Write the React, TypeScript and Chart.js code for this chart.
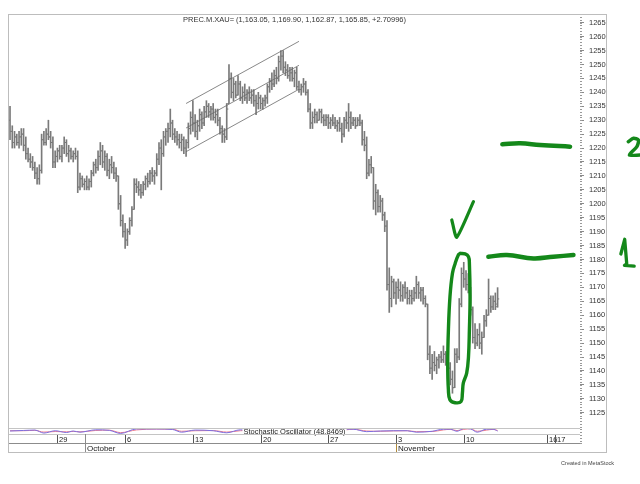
import React, { useEffect, useRef } from 'react';
import { Chart, registerables } from 'chart.js';

Chart.register(...registerables);

const FONT = '"Liberation Sans", Arial, sans-serif';
const BAR_COLOR = '#7a7a7a';
const GREEN = '#14881a';

const titleText = 'PREC.M.XAU= (1,163.05, 1,169.90, 1,162.87, 1,165.85, +2.70996)';
const stochLabel = 'Stochastic Oscillator (48.8469)';
const creditText = 'Created in MetaStock';

const priceTicks = [1125, 1130, 1135, 1140, 1145, 1150, 1155, 1160, 1165, 1170, 1175, 1180, 1185, 1190, 1195, 1200, 1205, 1210, 1215, 1220, 1225, 1230, 1235, 1240, 1245, 1250, 1255, 1260, 1265];

const dayLabels = ['29', '6', '13', '20', '27', '3', '10', '16', '17'];
const dayIndex = [21, 51, 81, 111, 141, 171, 201, 238, 241.6];
const monthLabels = ['October', 'November'];
const monthIndex = [33, 171];

const highs = [1235,1228,1226,1225,1226,1227,1227,1224,1220,1218,
1217,1215,1213,1214,1225,1226,1227,1230,1226,1224,
1219,1220,1221,1221,1224,1223,1221,1220,1219,1220,
1219,1211,1210,1209,1210,1209,1212,1215,1216,1219,
1222,1221,1219,1218,1216,1217,1215,1213,1210,1203,
1196,1193,1191,1195,1199,1209,1209,1208,1207,1208,
1210,1211,1212,1213,1212,1218,1222,1223,1226,1227,
1229,1234,1230,1227,1226,1225,1225,1224,1223,1229,
1233,1237,1232,1230,1234,1233,1235,1237,1236,1235,
1236,1234,1234,1231,1228,1227,1236,1250,1247,1245,
1244,1246,1244,1242,1243,1241,1242,1241,1241,1239,
1240,1239,1238,1239,1243,1245,1247,1248,1249,1253,
1255,1255,1251,1250,1249,1249,1248,1249,1244,1243,
1245,1244,1241,1236,1233,1234,1233,1234,1234,1232,
1232,1232,1231,1232,1231,1230,1231,1229,1231,1233,
1236,1233,1231,1231,1231,1232,1230,1226,1224,1216,
1217,1213,1207,1205,1203,1202,1197,1194,1177,1174,
1173,1172,1173,1172,1171,1172,1170,1169,1169,1170,
1174,1172,1170,1170,1167,1164,1149,1146,1147,1145,
1146,1147,1149,1147,1146,1143,1140,1148,1148,1166,
1177,1179,1176,1175,1170,1163,1157,1155,1157,1154,
1160,1162,1173,1167,1167,1168,1169.9];

const lows = [1223,1220,1220,1221,1220,1221,1219,1216,1215,1213,
1212,1209,1207,1207,1211,1221,1221,1223,1220,1213,
1213,1215,1216,1215,1218,1217,1215,1216,1215,1216,
1204,1205,1206,1205,1205,1205,1206,1210,1211,1212,
1214,1213,1212,1210,1209,1211,1209,1208,1198,1192,
1188,1184,1185,1189,1192,1198,1204,1203,1202,1203,
1205,1206,1207,1208,1207,1210,1214,1205,1217,1221,
1222,1224,1223,1222,1221,1220,1219,1218,1217,1220,
1225,1226,1224,1223,1226,1227,1228,1231,1231,1230,
1230,1229,1228,1225,1222,1222,1223,1236,1238,1237,
1238,1239,1237,1236,1237,1236,1237,1236,1235,1232,
1234,1234,1234,1235,1236,1240,1241,1242,1243,1244,
1248,1247,1246,1245,1244,1244,1242,1241,1240,1239,
1240,1239,1233,1227,1227,1229,1229,1230,1229,1228,
1228,1227,1227,1228,1227,1226,1226,1222,1224,1227,
1226,1227,1228,1227,1228,1228,1221,1219,1209,1210,
1211,1198,1196,1197,1197,1194,1190,1169,1161,1163,
1166,1164,1166,1165,1165,1166,1164,1164,1164,1165,
1166,1166,1165,1164,1163,1144,1139,1137,1140,1139,
1141,1143,1143,1142,1139,1135,1132,1134,1143,1144,
1163,1170,1169,1168,1160,1150,1148,1149,1148,1146,
1152,1156,1160,1161,1162,1162,1162.87];

const opens = [1230,1226,1222,1224,1222,1224,1225,1221,1218,1216,
1215,1213,1211,1209,1212,1223,1222,1225,1224,1222,
1215,1217,1219,1217,1220,1222,1218,1219,1217,1218,
1217,1206,1209,1207,1208,1206,1208,1211,1214,1213,
1217,1219,1215,1217,1212,1214,1213,1211,1210,1200,
1194,1190,1187,1190,1194,1198,1207,1206,1205,1204,
1207,1209,1208,1211,1210,1211,1216,1220,1218,1224,
1226,1227,1229,1225,1224,1223,1222,1223,1220,1222,
1227,1231,1229,1226,1228,1232,1229,1233,1235,1233,
1234,1231,1232,1230,1227,1225,1224,1236,1245,1240,
1243,1239,1243,1238,1240,1238,1240,1238,1239,1237,
1236,1238,1236,1237,1238,1242,1244,1243,1246,1245,
1251,1253,1249,1248,1246,1247,1245,1247,1242,1241,
1242,1243,1240,1234,1229,1231,1232,1230,1233,1231,
1230,1231,1229,1230,1229,1228,1229,1227,1225,1230,
1229,1231,1229,1230,1228,1230,1229,1223,1221,1211,
1214,1213,1201,1204,1199,1201,1196,1192,1171,1166,
1172,1168,1170,1169,1167,1170,1168,1166,1167,1166,
1168,1171,1168,1169,1166,1164,1146,1141,1143,1142,
1144,1145,1144,1146,1143,1141,1137,1134,1146,1145,
1164,1175,1173,1171,1170,1162,1152,1150,1153,1150,
1152,1158,1160,1166,1163,1165,1163.05];

const closes = [1226,1222,1224,1222,1224,1225,1221,1218,1216,1215,
1213,1211,1209,1212,1223,1222,1225,1224,1222,1215,
1217,1219,1217,1220,1222,1218,1219,1217,1218,1217,
1206,1209,1207,1208,1206,1208,1211,1214,1213,1217,
1219,1215,1217,1212,1214,1213,1211,1210,1200,1194,
1190,1187,1190,1194,1198,1207,1206,1205,1204,1207,
1209,1208,1211,1210,1211,1216,1220,1218,1224,1226,
1227,1229,1225,1224,1223,1222,1223,1220,1222,1227,
1231,1229,1226,1228,1232,1229,1233,1235,1233,1234,
1231,1232,1230,1227,1225,1224,1234,1245,1240,1243,
1239,1243,1238,1240,1238,1240,1238,1239,1237,1236,
1238,1236,1237,1238,1242,1244,1243,1246,1245,1251,
1253,1249,1248,1246,1247,1245,1247,1242,1241,1242,
1243,1240,1234,1229,1231,1232,1230,1233,1231,1230,
1231,1229,1230,1229,1228,1229,1227,1225,1230,1229,
1231,1229,1230,1228,1230,1229,1223,1221,1211,1214,
1213,1201,1204,1199,1201,1196,1192,1171,1166,1172,
1168,1170,1169,1167,1170,1168,1166,1167,1166,1168,
1171,1168,1169,1166,1164,1146,1141,1143,1142,1144,
1145,1144,1146,1143,1141,1137,1134,1146,1145,1164,
1175,1173,1171,1170,1162,1152,1150,1153,1150,1152,
1158,1160,1166,1163,1165,1164,1165.85];

const stochIdx = [0, 6, 11, 15, 20, 25, 28, 31, 38, 44, 49, 56, 65, 72, 76, 82, 90, 96, 102, 108, 114, 120, 126, 132, 138, 144, 149, 152, 158, 164, 170, 176, 180, 187, 192, 195, 198, 201, 204, 207, 211, 214, 216];
const stochK = [50, 60, 67, 12, 55, 22, 50, 28, 72, 62, 5, 88, 88, 78, 28, 67, 55, 17, 72, 60, 80, 92, 70, 20, 40, 45, 83, 83, 38, 50, 55, 55, 28, 45, 83, 83, 45, 95, 88, 28, 83, 83, 49];
const stochD = [55, 55, 62, 30, 40, 35, 42, 35, 60, 65, 20, 70, 85, 82, 45, 55, 58, 30, 55, 62, 72, 85, 78, 35, 35, 45, 72, 82, 50, 45, 52, 55, 38, 40, 70, 80, 58, 80, 90, 45, 65, 80, 60];

// trend channel (bar index, price)
const channelUpper = [[78, 1236.0], [128, 1258.3]];
const channelMiddle = [[78, 1227.2], [128, 1249.7]];
const channelLower = [[78, 1218.7], [128, 1241.1]];

// hand-drawn green annotations (bar index, price)
const greenCheck = [[195.7, 1194.2], [197.9, 1188.0], [205.3, 1200.75]];
const greenLoop = [[199.4, 1182.2], [201.6, 1182.0], [203.1, 1181.0], [203.5, 1178.6], [203.8, 1166.65], [203.5, 1154.7], [203.1, 1145.1], [202.3, 1139.2], [200.8, 1135.6], [200.4, 1132.0], [199.8, 1129.0], [197.2, 1128.6], [194.9, 1129.6], [194.2, 1133.2], [193.9, 1142.7], [194.2, 1154.7], [194.9, 1166.65], [196.0, 1175.05], [197.2, 1178.6], [198.6, 1181.6], [199.4, 1182.2]];
const greenLine1 = [[211.9, 1181.0], [220.1, 1181.6], [231.9, 1180.4], [240.7, 1181.0], [249.6, 1181.6]];
const greenLine2 = [[218.1, 1221.35], [226.0, 1221.7], [234.8, 1221.1], [248.1, 1220.5]];
const greenTwo = [[273.9, 1222.3], [276.2, 1223.5], [278.4, 1222.9], [277.7, 1220.5], [274.4, 1217.5], [279.1, 1217.5]];
const greenOne = [[270.6, 1181.98], [272.3, 1187.25], [273.2, 1178.4], [272.2, 1177.9], [276.5, 1177.6]];

const pts = (a: number[][]) => a.map(([x, y]) => ({ x, y }));

function greenDs(data: number[][], width: number, tension: number) {
  return {
    type: 'line' as const,
    data: pts(data),
    borderColor: GREEN,
    borderWidth: width,
    tension,
    pointRadius: 0,
    fill: false,
    clip: false as any,
    borderCapStyle: 'round' as const,
    borderJoinStyle: 'round' as const,
    order: -2,
    xAxisID: 'x',
    yAxisID: 'y',
  };
}

function channelDs(data: number[][]) {
  return {
    type: 'line' as const,
    data: pts(data),
    borderColor: '#6a6a6a',
    borderWidth: 0.8,
    pointRadius: 0,
    fill: false,
    order: -1,
    xAxisID: 'x',
    yAxisID: 'y',
  };
}

const overlayPlugin = {
  id: 'overlay',
  afterDraw(chart: any) {
    const ctx: CanvasRenderingContext2D = chart.ctx;
    const { left, right, bottom } = chart.chartArea;
    const xs = chart.scales.x;
    const ys = chart.scales.y;
    const ss = chart.scales.yS;
    ctx.save();

    // stochastic label with white box
    ctx.font = `7.5px ${FONT}`;
    const cx = (left + right) / 2;
    const sy = (ss.top + ss.bottom) / 2 + 0.5;
    const w = ctx.measureText(stochLabel).width;
    ctx.fillStyle = '#ffffff';
    ctx.fillRect(cx - w / 2 - 1, ss.top + 0.5, w + 2, ss.bottom - ss.top - 0.5);
    ctx.fillStyle = '#222';
    ctx.textAlign = 'center';
    ctx.textBaseline = 'middle';
    ctx.fillText(stochLabel, cx, sy);

    // minor tick column on the price axis
    ctx.fillStyle = '#9a9a9a';
    for (let v = 1114; v <= 1268; v++) {
      const py = ys.getPixelForValue(v);
      ctx.fillRect(right, Math.round(py), 2, 1);
    }

    // panel separators
    ctx.strokeStyle = '#c4c4c4';
    ctx.lineWidth = 1;
    const hline = (y: number, x1: number, x2: number) => {
      ctx.beginPath();
      ctx.moveTo(x1, y);
      ctx.lineTo(x2, y);
      ctx.stroke();
    };
    hline(Math.round(ss.top) + 0.5, 8, right);
    hline(Math.round(bottom) + 0.5, 8, right);
    ctx.strokeStyle = '#8c8c8c';
    hline(443.5, 8, right);

    // day labels
    ctx.font = `7.5px ${FONT}`;
    ctx.textAlign = 'left';
    ctx.textBaseline = 'middle';
    ctx.strokeStyle = '#555';
    dayLabels.forEach((lab, k) => {
      const px = Math.round(xs.getPixelForValue(dayIndex[k])) + 0.5;
      ctx.beginPath();
      ctx.moveTo(px, bottom + 1);
      ctx.lineTo(px, 443);
      ctx.stroke();
      ctx.fillStyle = '#222';
      ctx.fillText(lab, px + 1.5, 439.5);
    });
    // month labels
    monthLabels.forEach((lab, k) => {
      const px = Math.round(xs.getPixelForValue(monthIndex[k])) + 0.5;
      ctx.strokeStyle = k === 0 ? '#8c8c8c' : '#b08a3a';
      ctx.beginPath();
      ctx.moveTo(px, k === 0 ? bottom : 444);
      ctx.lineTo(px, 452);
      ctx.stroke();
      ctx.fillStyle = '#222';
      ctx.font = `8px ${FONT}`;
      ctx.fillText(lab, px + 1.5, 448.3);
    });

    // outer frame
    ctx.strokeStyle = '#bdbdbd';
    ctx.lineWidth = 1;
    ctx.strokeRect(8.5, 14.5, 598, 438);

    // title
    ctx.fillStyle = '#333';
    ctx.font = `7.5px ${FONT}`;
    ctx.textAlign = 'center';
    ctx.fillText(titleText, cx, 19.5);

    // credit
    ctx.font = `5.5px ${FONT}`;
    ctx.textAlign = 'right';
    ctx.fillStyle = '#444';
    ctx.fillText(creditText, 614, 463.5);
    ctx.restore();
  },
};

export default function App() {
  const ref = useRef<HTMLCanvasElement>(null);
  useEffect(() => {
    const barData = highs.map((h, i) => ({ x: i, y: [lows[i], h] }));
    const openData = opens.map((o, i) => ({ x: i - 0.35, y: o }));
    const closeData = closes.map((c, i) => ({ x: i + 0.35, y: c }));
    const kData = stochIdx.map((x, i) => ({ x, y: stochK[i] }));
    const dData = stochIdx.map((x, i) => ({ x, y: stochD[i] }));

    const tickDs = (data: any[]) => ({
      type: 'line',
      data,
      showLine: false,
      pointStyle: 'line',
      pointRadius: 0.8,
      pointHoverRadius: 0.8,
      pointBorderWidth: 1,
      borderColor: BAR_COLOR,
      order: 1,
      xAxisID: 'x',
      yAxisID: 'y',
    } as any);

    const chart = new Chart(ref.current as HTMLCanvasElement, {
      type: 'line',
      data: {
        datasets: [
          greenDs(greenCheck, 3.2, 0.2),
          greenDs(greenLoop, 3.4, 0.4),
          greenDs(greenLine1, 4.5, 0.4),
          greenDs(greenLine2, 4.5, 0.4),
          greenDs(greenTwo, 3.5, 0.25),
          greenDs(greenOne, 3.3, 0),
          channelDs(channelUpper),
          channelDs(channelMiddle),
          channelDs(channelLower),
          tickDs(openData),
          tickDs(closeData),
          {
            type: 'bar',
            data: barData,
            backgroundColor: BAR_COLOR,
            borderWidth: 0,
            barThickness: 1,
            grouped: false,
            order: 2,
            xAxisID: 'x',
            yAxisID: 'y',
          } as any,
          {
            type: 'line',
            data: kData,
            borderColor: '#7b6fe0',
            borderWidth: 1,
            pointRadius: 0,
            cubicInterpolationMode: 'monotone',
            fill: false,
            order: 3,
            xAxisID: 'x',
            yAxisID: 'yS',
          } as any,
          {
            type: 'line',
            data: dData,
            borderColor: '#ee7a8c',
            borderWidth: 1,
            pointRadius: 0,
            cubicInterpolationMode: 'monotone',
            fill: false,
            order: 4,
            xAxisID: 'x',
            yAxisID: 'yS',
          } as any,
        ],
      },
      options: {
        responsive: false,
        animation: false,
        devicePixelRatio: 1,
        events: [],
        layout: { padding: { left: 9, top: 14, right: 33, bottom: 50 } },
        plugins: {
          legend: { display: false },
          tooltip: { enabled: false },
          title: { display: false },
        },
        scales: {
          x: { type: 'linear', min: -0.45, max: 252.5, offset: false, bounds: 'ticks', display: false },
          y: {
            type: 'linear',
            position: 'right',
            stack: 'main',
            stackWeight: 414,
            min: 1119.52,
            max: 1268.12,
            afterFit: (s: any) => { s.width = 27; },
            afterBuildTicks: (s: any) => { s.ticks = priceTicks.map((v) => ({ value: v })); },
            ticks: {
              autoSkip: false,
              padding: 5,
              color: '#333',
              font: { family: FONT, size: 7.5 },
              callback: (v: any) => String(v),
            },
            grid: { drawOnChartArea: false, drawTicks: true, tickLength: 4, tickColor: '#8a8a8a', tickWidth: 1 },
            border: { display: false },
          },
          yS: {
            type: 'linear',
            position: 'right',
            stack: 'main',
            stackWeight: 6,
            min: -5,
            max: 105,
            afterFit: (s: any) => { s.width = 27; },
            ticks: { display: false },
            grid: { display: false, drawTicks: false },
            border: { display: false },
          },
        } as any,
      },
      plugins: [overlayPlugin],
    });
    return () => chart.destroy();
  }, []);

  return (
    <div style={{ position: 'fixed', left: 0, top: 0, width: 640, height: 484, background: '#fff' }}>
      <canvas ref={ref} width={640} height={484} style={{ display: 'block', width: 640, height: 484 }} />
    </div>
  );
}
